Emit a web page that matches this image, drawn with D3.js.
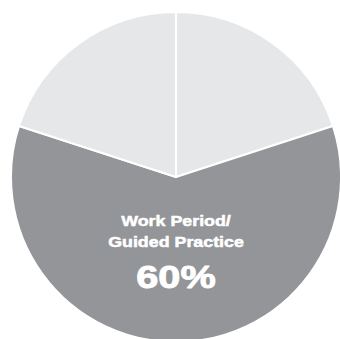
<!DOCTYPE html>
<html>
<head>
<meta charset="utf-8">
<script src="https://cdn.jsdelivr.net/npm/d3@7"></script>
<style>
  html, body { margin: 0; padding: 0; background: #ffffff; }
  svg { display: block; }
</style>
</head>
<body>
<svg id="chart" width="340" height="339"></svg>
<script>
// Lesson time split (percent of period)
const segments = ["Opening", "Work Period/Guided Practice", "Closing"];
const shares = [20, 60, 20];
const fills = ["#e6e7e8", "#939598", "#e6e7e8"];
const labelLines = ["Work Period/", "Guided Practice"];
const labelValue = "60%";

const width = 340, height = 339;
const cx = 176, cy = 177, radius = 165;

const svg = d3.select("#chart");
const g = svg.append("g").attr("transform", `translate(${cx},${cy})`);

const pie = d3.pie().sort(null).value(d => d.value);
const arc = d3.arc().innerRadius(0).outerRadius(radius);

const data = segments.map((name, i) => ({ name, value: shares[i], fill: fills[i] }));

g.selectAll("path")
  .data(pie(data))
  .join("path")
  .attr("d", arc)
  .attr("fill", d => d.data.fill)
  .attr("stroke", "#ffffff")
  .attr("stroke-width", 2)
  .attr("stroke-linejoin", "round");

// Label for the main segment: a heavy, slightly extended sans
const label = svg.append("g")
  .attr("text-anchor", "middle")
  .attr("fill", "#ffffff")
  .attr("stroke", "#ffffff")
  .attr("stroke-linejoin", "round")
  .attr("font-family", "'Liberation Sans', Arial, Helvetica, sans-serif")
  .attr("font-weight", "bold");

label.selectAll("text.line")
  .data(labelLines)
  .join("text")
  .attr("class", "line")
  .attr("transform", (d, i) => `translate(${cx},${226 + i * 21}) scale(1.19,1)`)
  .attr("font-size", 15)
  .attr("stroke-width", 0.5)
  .text(d => d);

label.append("text")
  .attr("transform", `translate(${cx},288) scale(1.28,1)`)
  .attr("font-size", 31)
  .attr("stroke-width", 0.9)
  .text(labelValue);
</script>
</body>
</html>
